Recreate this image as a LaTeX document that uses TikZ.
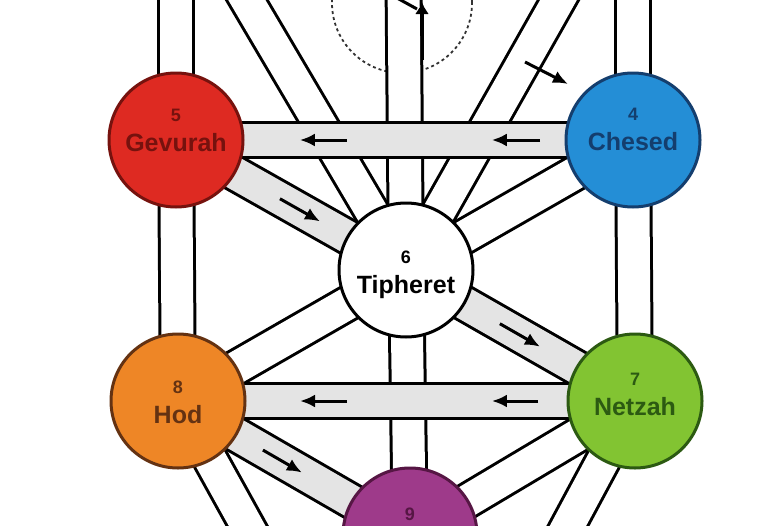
\documentclass[tikz,border=0pt]{standalone}
\usepackage{fontspec}
\setmainfont{Liberation Sans}
\usepackage{tikz}
\usetikzlibrary{arrows.meta,calc,backgrounds}

\definecolor{gevRed}{RGB}{222, 42, 34}
\definecolor{gevDark}{RGB}{118, 18, 14}
\definecolor{chesBlue}{RGB}{36, 142, 214}
\definecolor{chesDark}{RGB}{20, 62, 110}
\definecolor{hodOrange}{RGB}{238, 134, 38}
\definecolor{hodDark}{RGB}{100, 50, 18}
\definecolor{netzGreen}{RGB}{130, 196, 50}
\definecolor{netzDark}{RGB}{44, 90, 18}
\definecolor{yesPurple}{RGB}{158, 58, 138}
\definecolor{yesDark}{RGB}{86, 22, 68}
\definecolor{pathGray}{RGB}{228, 228, 228}

\newcommand{\sefnum}[1]{{\fontsize{18}{18}\selectfont #1}\\}

\begin{document}
\begin{tikzpicture}[x=1pt,y=-1pt,
                sef/.style={circle,minimum size=134pt,line width=3pt,inner sep=0pt},
                sefname/.style={align=center,inner sep=0pt,font=\fontsize{25}{30}\selectfont\bfseries},
                band/.style={line width=38pt,draw=black},
                bandfill/.style={line width=32pt,draw=#1},
                flow/.style={line width=3pt,-{Latex[length=15pt,width=13pt]}}
            ]
                \useasboundingbox (0,0) rectangle (782,525);
                % the sefirot
                \node[sef,fill=gevRed,draw=gevDark] (gev) at (176,140) {};
                \node[sef,fill=chesBlue,draw=chesDark] (ches) at (633,140) {};
                \node[sef,fill=white,draw=black] (tiph) at (406,270) {};
                \node[sef,fill=hodOrange,draw=hodDark] (hod) at (178,401) {};
                \node[sef,fill=netzGreen,draw=netzDark] (netz) at (635,401) {};
                \node[sef,fill=yesPurple,draw=yesDark] (yes) at (410,535) {};
                \node[sefname,text=gevDark] (gevname) at ([yshift=10pt]gev.center) {\sefnum{5}Gevurah};
                \node[sefname,text=chesDark] (chesname) at ([yshift=11pt]ches.center) {\sefnum{4}Chesed};
                \node[sefname,text=black] (tiphname) at ([yshift=-5pt]tiph.center) {\sefnum{6}Tipheret};
                \node[sefname,text=hodDark] (hodname) at ([yshift=-1pt]hod.center) {\sefnum{8}Hod};
                \node[sefname,text=netzDark] (netzname) at ([yshift=7pt]netz.center) {\sefnum{7}Netzah};
                \node[text=yesDark,inner sep=0pt,font=\fontsize{18}{18}\selectfont\bfseries] (yesnum) at ([yshift=21pt]yes.center) {9};
                % paths leaving the picture
                \coordinate (kether) at (403,-80);
                \coordinate (binah) at (215,-54);
                \coordinate (chokmah) at (589,-54);
                \coordinate (malkuth) at (410,820);
                \coordinate (gevtop) at (176,-60);
                \coordinate (chestop) at (633,-60);
                \begin{scope}[on background layer]
                    \node[circle,draw=black!80,dashed,line width=1.8pt,minimum size=140pt] (daath) at (402,3) {};
                    \foreach \a/\b in {gev/gevtop,ches/chestop,gev/hod,ches/netz,tiph/binah,tiph/chokmah,
                                       tiph/kether,ches/tiph,tiph/hod,tiph/yes,netz/yes,hod/malkuth,netz/malkuth}{
                        \draw[band] (\a.center) -- (\b.center);
                        \draw[bandfill=white] (\a.center) -- (\b.center);
                    }
                    \foreach \a/\b in {gev/ches,gev/tiph,tiph/netz,hod/netz,hod/yes}{
                        \draw[band] (\a.center) -- (\b.center);
                        \draw[bandfill=pathGray] (\a.center) -- (\b.center);
                    }
                    % flow arrows
                    \draw[flow] ($(gev)!0.374!(ches)$) -- ($(gev)!0.271!(ches)$);
                    \draw[flow] ($(gev)!0.797!(ches)$) -- ($(gev)!0.691!(ches)$);
                    \draw[flow] ($(hod)!0.370!(netz)$) -- ($(hod)!0.267!(netz)$);
                    \draw[flow] ($(hod)!0.788!(netz)$) -- ($(hod)!0.687!(netz)$);
                    \draw[flow] ($(gev)!0.452!(tiph)$) -- ($(gev)!0.626!(tiph)$);
                    \draw[flow] ($(tiph)!0.410!(netz)$) -- ($(tiph)!0.585!(netz)$);
                    \draw[flow] ($(hod)!0.366!(yes)$) -- ($(hod)!0.534!(yes)$);
                    \draw[flow] (525,62) -- (568,84);
                    \draw[line width=3pt,-{Latex[length=12pt,width=14pt]}] (422,60) -- (422,2);
                    \draw[line width=3pt] (397,-2) -- (417,9);
                \end{scope}
            \end{tikzpicture}
\end{document}
